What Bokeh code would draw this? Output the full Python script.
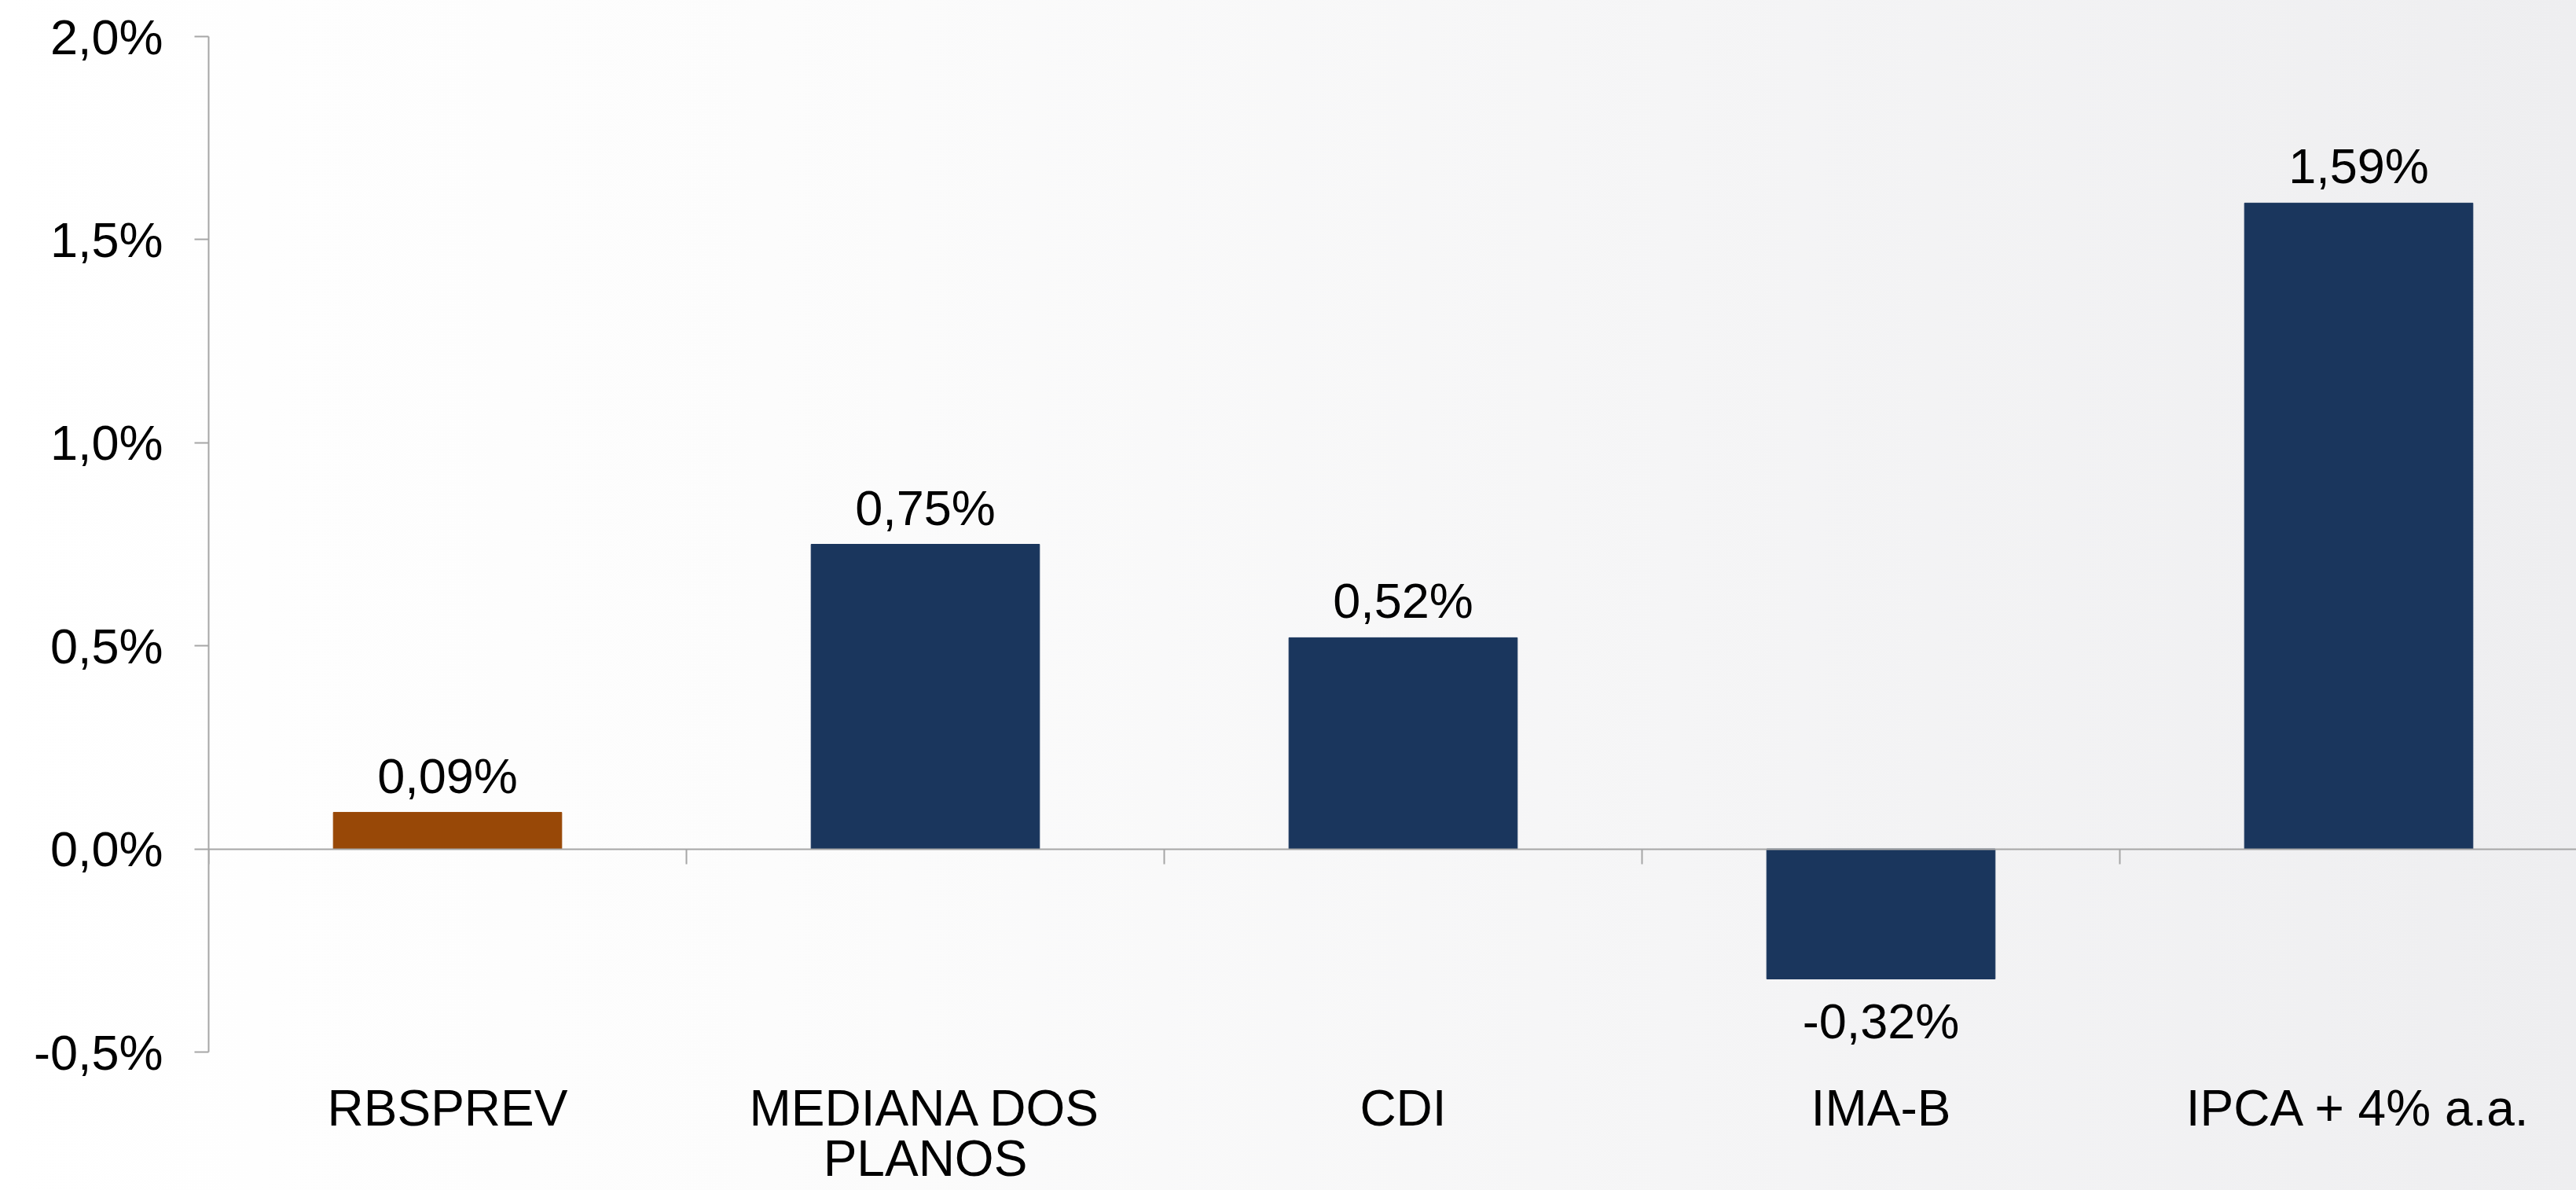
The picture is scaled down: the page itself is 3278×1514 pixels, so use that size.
from bokeh.plotting import figure
from bokeh.models import Range1d, LinearAxis, FixedTicker, ColumnDataSource, LabelSet
from bokeh.core.properties import value
from bokeh.embed import file_html
from bokeh.resources import INLINE

# ---- data ----
categories = ["RBSPREV", "MEDIANA DOS\nPLANOS", "CDI", "IMA-B", "IPCA + 4% a.a."]
values = [0.09, 0.75, 0.52, -0.32, 1.59]
value_labels = ["0,09%", "0,75%", "0,52%", "-0,32%", "1,59%"]
bar_colors = ["#984807", "#1A365D", "#1A365D", "#1A365D", "#1A365D"]
y_ticks = [-0.5, 0.0, 0.5, 1.0, 1.5, 2.0]
y_tick_labels = ["-0,5%", "0,0%", "0,5%", "1,0%", "1,5%", "2,0%"]

# ---- layout ----
W, H = 3278, 1514
LEFT, TOP = 265, 46
UNIT = 608.0          # px per category
PX_PER_PCT = 516.8    # px per 1 percentage point
FONT = "Liberation Sans"
AXIS_COLOR = "#A6A6A6"

x_end = (W - LEFT) / UNIT
y_start = y_ticks[-1] - (H - TOP) / PX_PER_PCT
p = figure(width=W, height=H, output_backend="svg", toolbar_location=None,
           x_range=Range1d(0, x_end), y_range=Range1d(y_start, y_ticks[-1]),
           x_axis_type=None, y_axis_type=None,
           min_border_left=LEFT, min_border_right=0,
           min_border_top=TOP, min_border_bottom=0)
p.background_fill_alpha = 0
p.border_fill_alpha = 0
p.outline_line_color = None

# y axis
yax = LinearAxis(ticker=FixedTicker(ticks=y_ticks), bounds=(y_ticks[0], y_ticks[-1]))
yax.major_label_overrides = {float(t): l for t, l in zip(y_ticks, y_tick_labels)}
yax.axis_line_color = AXIS_COLOR
yax.axis_line_width = 2
yax.major_tick_line_color = AXIS_COLOR
yax.major_tick_line_width = 2
yax.major_tick_out = 18
yax.major_tick_in = 0
yax.minor_tick_line_color = None
yax.major_label_text_font = FONT
yax.major_label_text_font_size = "63px"
yax.major_label_text_color = "#000000"
yax.major_label_standoff = 40
p.add_layout(yax, "left")

# zero line with category separators
n = len(categories)
zax = LinearAxis(ticker=FixedTicker(ticks=list(range(n))), fixed_location=0)
zax.axis_line_color = AXIS_COLOR
zax.axis_line_width = 2
zax.major_tick_line_color = AXIS_COLOR
zax.major_tick_line_width = 2
zax.major_tick_out = 19
zax.major_tick_in = 0
zax.minor_tick_line_color = None
zax.major_label_text_font_size = "0px"
zax.major_label_text_alpha = 0
p.add_layout(zax, "below")

centers = [i + 0.5 for i in range(n)]
bars = ColumnDataSource(dict(x=centers, top=values, color=bar_colors))
p.vbar(x="x", top="top", bottom=0, width=0.478, color="color", source=bars)

# value labels
lab_src = ColumnDataSource(dict(
    x=centers, y=values, text=value_labels,
    off=[25 if v >= 0 else -76 for v in values]))
p.add_layout(LabelSet(x="x", y="y", text="text", source=lab_src, y_offset="off",
                      text_align="center", text_baseline="alphabetic",
                      text_font=value(FONT), text_font_size=value("63px"),
                      text_color="#000000"))

# category labels (each line centred separately)
split = [c.split("\n") for c in categories]
max_lines = max(len(s) for s in split)
FIRST_OFF, LINE_GAP = 35, 64
for k in range(max_lines):
    xs = [centers[i] for i, s in enumerate(split) if len(s) > k]
    ts = [s[k] for s in split if len(s) > k]
    src = ColumnDataSource(dict(x=xs, y=[y_ticks[0]] * len(xs), text=ts))
    p.add_layout(LabelSet(x="x", y="y", text="text", source=src,
                          y_offset=-FIRST_OFF - LINE_GAP * k,
                          text_align="center", text_baseline="top",
                          text_font=value(FONT), text_font_size=value("64px"),
                          text_color="#000000"))

html = file_html(p, INLINE, title="chart")
css = ("<style>html,body{margin:0;padding:0;overflow:hidden;"
       "background:linear-gradient(to right,#FFFFFF 0%,#FCFCFC 30%,"
       "#F5F5F6 65%,#EEEEF0 100%) fixed;}</style>")
html = html.replace("</head>", css + "</head>", 1)
open("out.html", "w").write(html)
